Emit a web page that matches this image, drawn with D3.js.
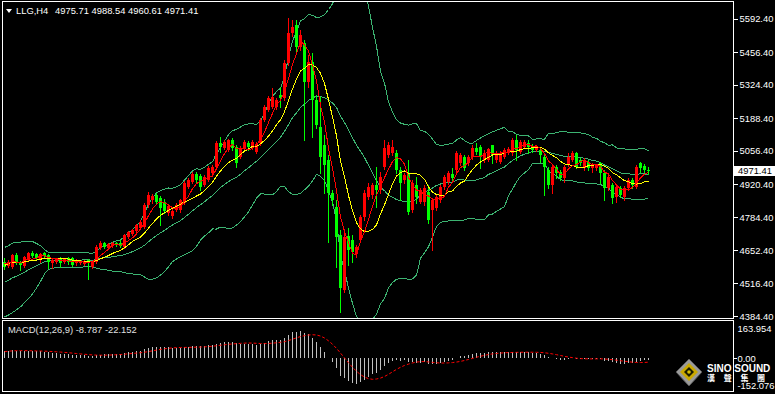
<!DOCTYPE html>
<html>
<head>
<meta charset="UTF-8">
<title>LLG,H4</title>
<script src="https://d3js.org/d3.v7.min.js"></script>
<style>
body { margin: 0; background: #000; }
svg text { font-family: "Liberation Sans", Arial, sans-serif; font-size: 9.4px; }
</style>
</head>
<body>
<div id="chart"></div>
<script>

// ---- data ----

var symbol    = "LLG,H4"
var lastBar   = ["4975.71", "4988.54", "4960.61", "4971.41"]
var priceTicks = [5592.40, 5456.40, 5324.40, 5188.40, 5056.40, 4920.40, 4784.40, 4652.40, 4516.40, 4384.40]
var macdTicks  = [163.954, 0.00, -152.076]
var macdLabel  = "MACD(12,26,9) -8.787 -22.152"

// closes before the first visible bar (only feed the indicators)
var earlierCloses = [4452, 4446, 4438, 4445, 4430, 4441, 4436, 4448, 4455, 4443, 4437, 4450, 4442, 4433, 4447, 4440,
	4445, 4438, 4450, 4456, 4441, 4447, 4460, 4452, 4466, 4478,
	4530, 4575, 4590, 4612, 4598, 4605, 4594, 4610, 4602]

var opens = [4602.4, 4586.2, 4582.1, 4630.9, 4602.4, 4586.2, 4610.6, 4639.0, 4634.9, 4610.6,
	4639.0, 4630.9, 4598.4, 4602.4, 4618.7, 4602.4, 4618.7, 4618.7, 4598.4, 4598.4,
	4594.3, 4610.6, 4582.1, 4602.4, 4659.3, 4679.6, 4659.3, 4667.4, 4679.6, 4679.6,
	4663.4, 4704.0, 4716.2, 4728.4, 4740.6, 4744.6, 4834.0, 4854.3, 4874.6, 4862.4,
	4846.2, 4801.5, 4789.3, 4813.7, 4813.7, 4842.1, 4907.1, 4927.4, 4959.9, 4951.8,
	4915.2, 4935.5, 4964.0, 4988.3, 5085.8, 5065.5, 5057.4, 5098.0, 5069.6, 5029.0,
	5065.5, 5085.8, 5065.5, 5049.3, 5085.8, 5179.3, 5219.9, 5232.1, 5232.1, 5280.8,
	5268.6, 5410.8, 5532.7, 5565.1, 5475.8, 5492.0, 5333.6, 5414.9, 5260.5, 5150.8,
	5077.7, 5016.8, 4882.7, 4825.9, 4712.1, 4488.7, 4708.1, 4691.8, 4635.0, 4691.8,
	4785.2, 4866.5, 4874.6, 4915.2, 4894.9, 4988.3, 5037.1, 5045.2, 5045.2, 4976.2,
	4935.5, 4964.0, 4813.7, 4915.2, 4846.2, 4846.2, 4886.8, 4813.7, 4821.8, 4854.3,
	4907.1, 4927.4, 4959.9, 4976.2, 5004.6, 5029.0, 5004.6, 5029.0, 5065.5, 5069.6,
	5016.8, 5016.8, 5077.7, 5016.8, 5008.7, 5029.0, 5045.2, 5045.2, 5098.0, 5049.3,
	5069.6, 5085.8, 5073.6, 5057.4, 5057.4, 5029.0, 4976.2, 4915.2, 4988.3, 4968.0,
	4943.7, 4996.5, 5016.8, 5045.2, 5016.8, 4984.3, 5008.7, 4984.3, 4984.3, 5004.6,
	4964.0, 4903.0, 4915.2, 4866.5, 4903.0, 4866.5, 4903.0, 4935.5, 4907.1, 5004.6,
	4992.4, 4975.71]

var highs = [4618.7, 4610.6, 4634.9, 4639.0, 4606.5, 4626.8, 4643.1, 4647.1, 4639.0, 4639.0,
	4643.1, 4634.9, 4614.6, 4618.7, 4622.8, 4618.7, 4622.8, 4622.8, 4614.6, 4610.6,
	4610.6, 4614.6, 4606.5, 4671.5, 4687.8, 4683.7, 4679.6, 4683.7, 4683.7, 4691.8,
	4716.2, 4728.4, 4736.5, 4756.8, 4773.1, 4842.1, 4886.8, 4878.7, 4882.7, 4870.5,
	4858.4, 4838.1, 4817.7, 4842.1, 4858.4, 4931.5, 4943.7, 4968.0, 4968.0, 4959.9,
	4955.8, 4992.4, 4996.5, 5094.0, 5110.2, 5098.0, 5102.1, 5106.1, 5077.7, 5073.6,
	5098.0, 5094.0, 5098.0, 5089.9, 5187.4, 5240.2, 5276.7, 5309.2, 5268.6, 5313.3,
	5423.0, 5593.6, 5585.5, 5585.5, 5544.8, 5504.2, 5443.3, 5451.4, 5280.8, 5272.7,
	5118.3, 5037.1, 4894.9, 4854.3, 4732.4, 4732.4, 4740.6, 4712.1, 4671.5, 4793.4,
	4894.9, 4923.4, 4923.4, 4988.3, 4968.0, 5098.0, 5089.9, 5098.0, 5057.4, 4988.3,
	4964.0, 5016.8, 4935.5, 4947.7, 4903.0, 4915.2, 4915.2, 4862.4, 4874.6, 4915.2,
	4955.8, 4972.1, 4984.3, 5053.3, 5045.2, 5037.1, 5037.1, 5077.7, 5085.8, 5077.7,
	5057.4, 5065.5, 5077.7, 5053.3, 5053.3, 5065.5, 5069.6, 5106.1, 5118.3, 5098.0,
	5098.0, 5098.0, 5081.8, 5077.7, 5065.5, 5037.1, 4988.3, 4996.5, 4996.5, 4976.2,
	4996.5, 5045.2, 5053.3, 5049.3, 5024.9, 5024.9, 5016.8, 5004.6, 5000.5, 5008.7,
	4976.2, 4955.8, 4923.4, 4915.2, 4911.2, 4911.2, 4943.7, 4943.7, 4996.5, 5008.7,
	5000.5, 4988.54]

var lows = [4574.0, 4582.1, 4578.1, 4594.3, 4570.0, 4582.1, 4606.5, 4622.8, 4610.6, 4602.4,
	4622.8, 4578.1, 4578.1, 4598.4, 4582.1, 4598.4, 4594.3, 4586.2, 4590.3, 4594.3,
	4590.3, 4533.4, 4578.1, 4598.4, 4655.3, 4659.3, 4655.3, 4663.4, 4667.4, 4663.4,
	4659.3, 4699.9, 4712.1, 4724.3, 4736.5, 4740.6, 4825.9, 4842.1, 4838.1, 4752.8,
	4801.5, 4793.4, 4781.2, 4809.6, 4805.6, 4838.1, 4903.0, 4923.4, 4927.4, 4894.9,
	4911.2, 4931.5, 4959.9, 4984.3, 5049.3, 5061.5, 5053.3, 5057.4, 4988.3, 5024.9,
	5061.5, 5057.4, 5061.5, 5045.2, 5077.7, 5175.2, 5215.8, 5228.0, 5223.9, 5232.1,
	5260.5, 5402.7, 5520.5, 5455.5, 5463.6, 5098.0, 5313.3, 5110.2, 5146.8, 4964.0,
	4882.7, 4683.7, 4834.0, 4582.1, 4399.4, 4480.6, 4590.3, 4602.4, 4622.8, 4683.7,
	4773.1, 4858.4, 4862.4, 4825.9, 4882.7, 4980.2, 5029.0, 5037.1, 4964.0, 4854.3,
	4923.4, 4797.4, 4805.6, 4842.1, 4842.1, 4834.0, 4760.9, 4651.2, 4813.7, 4846.2,
	4899.0, 4919.3, 4935.5, 4968.0, 4996.5, 4976.2, 4996.5, 5020.8, 5041.2, 4984.3,
	5008.7, 5012.7, 5004.6, 5008.7, 5004.6, 5024.9, 5041.2, 5037.1, 5016.8, 5045.2,
	5065.5, 5045.2, 5049.3, 5053.3, 5008.7, 4874.6, 4903.0, 4882.7, 4943.7, 4935.5,
	4927.4, 4992.4, 5012.7, 4984.3, 4996.5, 4976.2, 4976.2, 4968.0, 4976.2, 4923.4,
	4854.3, 4894.9, 4842.1, 4846.2, 4866.5, 4854.3, 4894.9, 4903.0, 4903.0, 4968.0,
	4968.0, 4960.61]

var closes = [4582.1, 4602.4, 4630.9, 4598.4, 4590.3, 4622.8, 4639.0, 4626.8, 4618.7, 4634.9,
	4626.8, 4602.4, 4610.6, 4614.6, 4598.4, 4614.6, 4602.4, 4590.3, 4610.6, 4606.5,
	4606.5, 4598.4, 4602.4, 4663.4, 4679.6, 4663.4, 4675.6, 4679.6, 4671.5, 4667.4,
	4712.1, 4724.3, 4732.4, 4752.8, 4764.9, 4834.0, 4874.6, 4870.5, 4846.2, 4821.8,
	4809.6, 4829.9, 4809.6, 4834.0, 4854.3, 4923.4, 4935.5, 4959.9, 4935.5, 4907.1,
	4947.7, 4984.3, 4988.3, 5085.8, 5069.6, 5089.9, 5098.0, 5065.5, 5004.6, 5065.5,
	5089.9, 5069.6, 5089.9, 5081.8, 5179.3, 5232.1, 5268.6, 5272.7, 5260.5, 5268.6,
	5410.8, 5532.7, 5557.0, 5475.8, 5524.5, 5333.6, 5414.9, 5260.5, 5158.9, 5029.0,
	4996.5, 4882.7, 4854.3, 4704.0, 4496.8, 4704.0, 4651.2, 4643.1, 4663.4, 4785.2,
	4882.7, 4907.1, 4915.2, 4894.9, 4947.7, 5065.5, 5077.7, 5069.6, 4976.2, 4923.4,
	4955.8, 4805.6, 4923.4, 4866.5, 4894.9, 4903.0, 4773.1, 4854.3, 4866.5, 4907.1,
	4947.7, 4964.0, 4943.7, 5045.2, 5037.1, 4984.3, 5029.0, 5065.5, 5049.3, 5029.0,
	5045.2, 5061.5, 5037.1, 5045.2, 5045.2, 5057.4, 5061.5, 5098.0, 5057.4, 5089.9,
	5089.9, 5069.6, 5057.4, 5069.6, 5037.1, 4988.3, 4915.2, 4988.3, 4964.0, 4943.7,
	4988.3, 5029.0, 5045.2, 4988.3, 5004.6, 5016.8, 4984.3, 4996.5, 4996.5, 4964.0,
	4903.0, 4947.7, 4862.4, 4907.1, 4874.6, 4903.0, 4935.5, 4915.2, 4988.3, 4984.3,
	4976.2, 4971.41]

// ---- layout ----

var width = 775, height = 394
var plotLeft = 3, plotRight = 733
var mainTop = 2, mainBottom = 318
var macdTop = 321, macdBottom = 391

var upColor   = "#ff0000"
var downColor = "#00ff00"
var bandColor = "#3cb371"

// ---- indicators ----

var all = earlierCloses.concat(closes)
var shift = earlierCloses.length

function sma(arr, k, p) {
	var s = 0, n = 0
	for (var j = Math.max(0, k - p + 1); j <= k; j++) { s += arr[j]; n++ }
	return s / n
}
function stdev(arr, k, p, m) {
	var s = 0, n = 0
	for (var j = Math.max(0, k - p + 1); j <= k; j++) { s += (arr[j] - m) * (arr[j] - m); n++ }
	return Math.sqrt(s / n)
}
function ema(arr, p) {
	var a = 2 / (p + 1), out = [arr[0]]
	for (var j = 1; j < arr.length; j++) out.push(out[j - 1] + a * (arr[j] - out[j - 1]))
	return out
}

var mid = [], upper = [], lower = [], ma10 = [], ma5 = []
closes.forEach(function(c, i) {
	var k = i + shift
	var m = sma(all, k, 20), sd = stdev(all, k, 20, m)
	mid.push(m); upper.push(m + 2 * sd); lower.push(m - 2 * sd)
	ma10.push(sma(all, k, 10))
	ma5.push(sma(all, k, 5))
})

var e12 = ema(all, 12), e26 = ema(all, 26)
var macdAll = all.map(function(v, j) { return e12[j] - e26[j] })
var macd = [], signal = []
closes.forEach(function(c, i) {
	macd.push(macdAll[i + shift])
	signal.push(sma(macdAll, i + shift, 9))
})

// ---- drawing ----

var svg = d3.select("#chart").append("svg")
	.attr("width", width).attr("height", height)
	.style("display", "block")

svg.append("rect").attr("width", width).attr("height", height).attr("fill", "#000")

var x = d3.scaleLinear().domain([0, closes.length - 1]).range([4, 648])
var y = d3.scaleLinear().domain([4384.40, 5592.40]).range([316, 18.5])
var ym = d3.scaleLinear().domain([-152.076, 163.954]).range([385.5, 328.5])

var defs = svg.append("defs")
defs.append("clipPath").attr("id", "mainclip").append("rect")
	.attr("x", plotLeft).attr("y", mainTop).attr("width", plotRight - plotLeft).attr("height", mainBottom - mainTop)
defs.append("clipPath").attr("id", "macdclip").append("rect")
	.attr("x", plotLeft).attr("y", macdTop).attr("width", plotRight - plotLeft).attr("height", macdBottom - macdTop)

var main = svg.append("g").attr("clip-path", "url(#mainclip)")

function px(i) { return Math.round(x(i)) + 0.5 }

// bollinger bands (20,2)
var bandLine = d3.line().x(function(d, i) { return px(i) }).y(function(d) { return y(d) })
;[upper, mid, lower].forEach(function(s) {
	main.append("path").attr("d", bandLine(s))
		.attr("fill", "none").attr("stroke", bandColor).attr("stroke-width", 1)
		.attr("shape-rendering", "crispEdges")
})

// candles
var candles = main.selectAll(".candle").data(closes).enter()
	.append("g").attr("class", "candle")

candles.append("line")
	.attr("x1", function(d, i) { return px(i) })
	.attr("x2", function(d, i) { return px(i) })
	.attr("y1", function(d, i) { return Math.round(y(highs[i])) })
	.attr("y2", function(d, i) { return Math.round(y(lows[i])) + 1 })
	.attr("stroke", function(d, i) { return d >= opens[i] ? upColor : downColor })
	.attr("shape-rendering", "crispEdges")

candles.append("rect")
	.attr("x", function(d, i) { return Math.round(x(i)) - 1 })
	.attr("width", 3)
	.attr("y", function(d, i) { return Math.round(y(Math.max(d, opens[i]))) })
	.attr("height", function(d, i) {
		return Math.max(1, Math.round(y(Math.min(d, opens[i]))) - Math.round(y(Math.max(d, opens[i]))))
	})
	.attr("fill", function(d, i) { return d >= opens[i] ? upColor : downColor })
	.attr("shape-rendering", "crispEdges")

// moving averages
main.append("path").attr("d", bandLine(ma10))
	.attr("fill", "none").attr("stroke", "#ffff00").attr("stroke-width", 1)
	.attr("shape-rendering", "crispEdges")
main.append("path").attr("d", bandLine(ma5))
	.attr("fill", "none").attr("stroke", "#ff0000").attr("stroke-width", 1)
	.attr("shape-rendering", "crispEdges")

// MACD panel
var mp = svg.append("g").attr("clip-path", "url(#macdclip)")
mp.selectAll(".bar").data(macd).enter().append("line")
	.attr("x1", function(d, i) { return px(i) })
	.attr("x2", function(d, i) { return px(i) })
	.attr("y1", Math.round(ym(0)))
	.attr("y2", function(d) { return Math.round(ym(d)) })
	.attr("stroke", "#c0c0c0")
	.attr("shape-rendering", "crispEdges")
mp.append("path").attr("d", d3.line().x(function(d, i) { return px(i) }).y(function(d) { return ym(d) })(signal))
	.attr("fill", "none").attr("stroke", "#ff0000").attr("stroke-width", 1)
	.attr("stroke-dasharray", "3,2")

// frames
var frame = svg.append("g").attr("fill", "none").attr("stroke", "#fff").attr("shape-rendering", "crispEdges")
frame.append("rect").attr("x", 2.5).attr("y", 1.5).attr("width", plotRight - 2.5 + 0.5).attr("height", mainBottom - 1.5 + 0.5)
frame.append("rect").attr("x", 2.5).attr("y", 320.5).attr("width", plotRight - 2.5 + 0.5).attr("height", macdBottom - 320.5)

// logo
var logo = svg.append("g")
logo.append("path").attr("d", "M689,359 L702,372 L689,386 L676,372 Z").attr("fill", "#9a9a9a").attr("stroke", "#555")
logo.append("path").attr("d", "M689,363 L698,372 L689,381 L680,372 Z").attr("fill", "#c9a800")
logo.append("path").attr("d", "M689,367 L694,372 L689,377 L684,372 Z").attr("fill", "#1a1a00")
logo.append("circle").attr("cx", 689).attr("cy", 372).attr("r", 1.8).attr("fill", "#d8c000")
logo.append("text").attr("x", 707).attr("y", 372).text("SINO SOUND")
	.attr("fill", "#fff").style("font-weight", "bold").style("font-size", "10px")
logo.append("text").attr("x", 707).attr("y", 381).text("漢聲集團")
	.attr("fill", "#fff").style("font-weight", "bold").style("font-size", "8px")
	.style("font-family", "'Noto Sans CJK TC', sans-serif").style("letter-spacing", "8.7px")

// price axis
var yAxis = d3.axisRight(y).tickValues(priceTicks).tickSize(4)
	.tickFormat(function(d) { return d.toFixed(2) })
var ya = svg.append("g").attr("transform", "translate(" + (plotRight + 0.5) + ",0)").call(yAxis)
ya.select(".domain").remove()
ya.selectAll("line").attr("stroke", "#fff").attr("shape-rendering", "crispEdges")
ya.selectAll("text").attr("fill", "#fff").attr("x", 6).style("font-size", "9.4px")
	.style("font-family", "'Liberation Sans', Arial, sans-serif")

// current price tag
var py = Math.round(y(+lastBar[3]))
svg.append("rect").attr("x", 734).attr("y", py - 5).attr("width", 41).attr("height", 10).attr("fill", "#fff")
svg.append("text").attr("x", 738).attr("y", py).attr("dy", "0.35em").attr("fill", "#000").text(lastBar[3])

// MACD axis
var macdAxis = d3.axisRight(ym).tickValues(macdTicks).tickSize(0)
	.tickFormat(function(d) { return d === 0 ? "0.00" : String(d) })
var ma = svg.append("g").attr("transform", "translate(" + (plotRight + 0.5) + ",0)").call(macdAxis)
ma.select(".domain").remove()
ma.selectAll("text").attr("fill", "#fff").attr("x", 4).style("font-size", "9.4px")
	.style("font-family", "'Liberation Sans', Arial, sans-serif")
svg.append("line").attr("x1", plotRight).attr("x2", plotRight + 4)
	.attr("y1", Math.round(ym(0)) + 0.5).attr("y2", Math.round(ym(0)) + 0.5)
	.attr("stroke", "#fff")

// titles
svg.append("path").attr("d", "M6,9 L12,9 L9,13 Z").attr("fill", "#fff")
svg.append("text").attr("x", 16).attr("y", 14).attr("fill", "#fff").text(symbol)
svg.append("text").attr("x", 55).attr("y", 14).attr("fill", "#fff").text(lastBar.join(" "))
svg.append("text").attr("x", 8).attr("y", 333).attr("fill", "#e0e0e0").text(macdLabel)

</script>
</body>
</html>
